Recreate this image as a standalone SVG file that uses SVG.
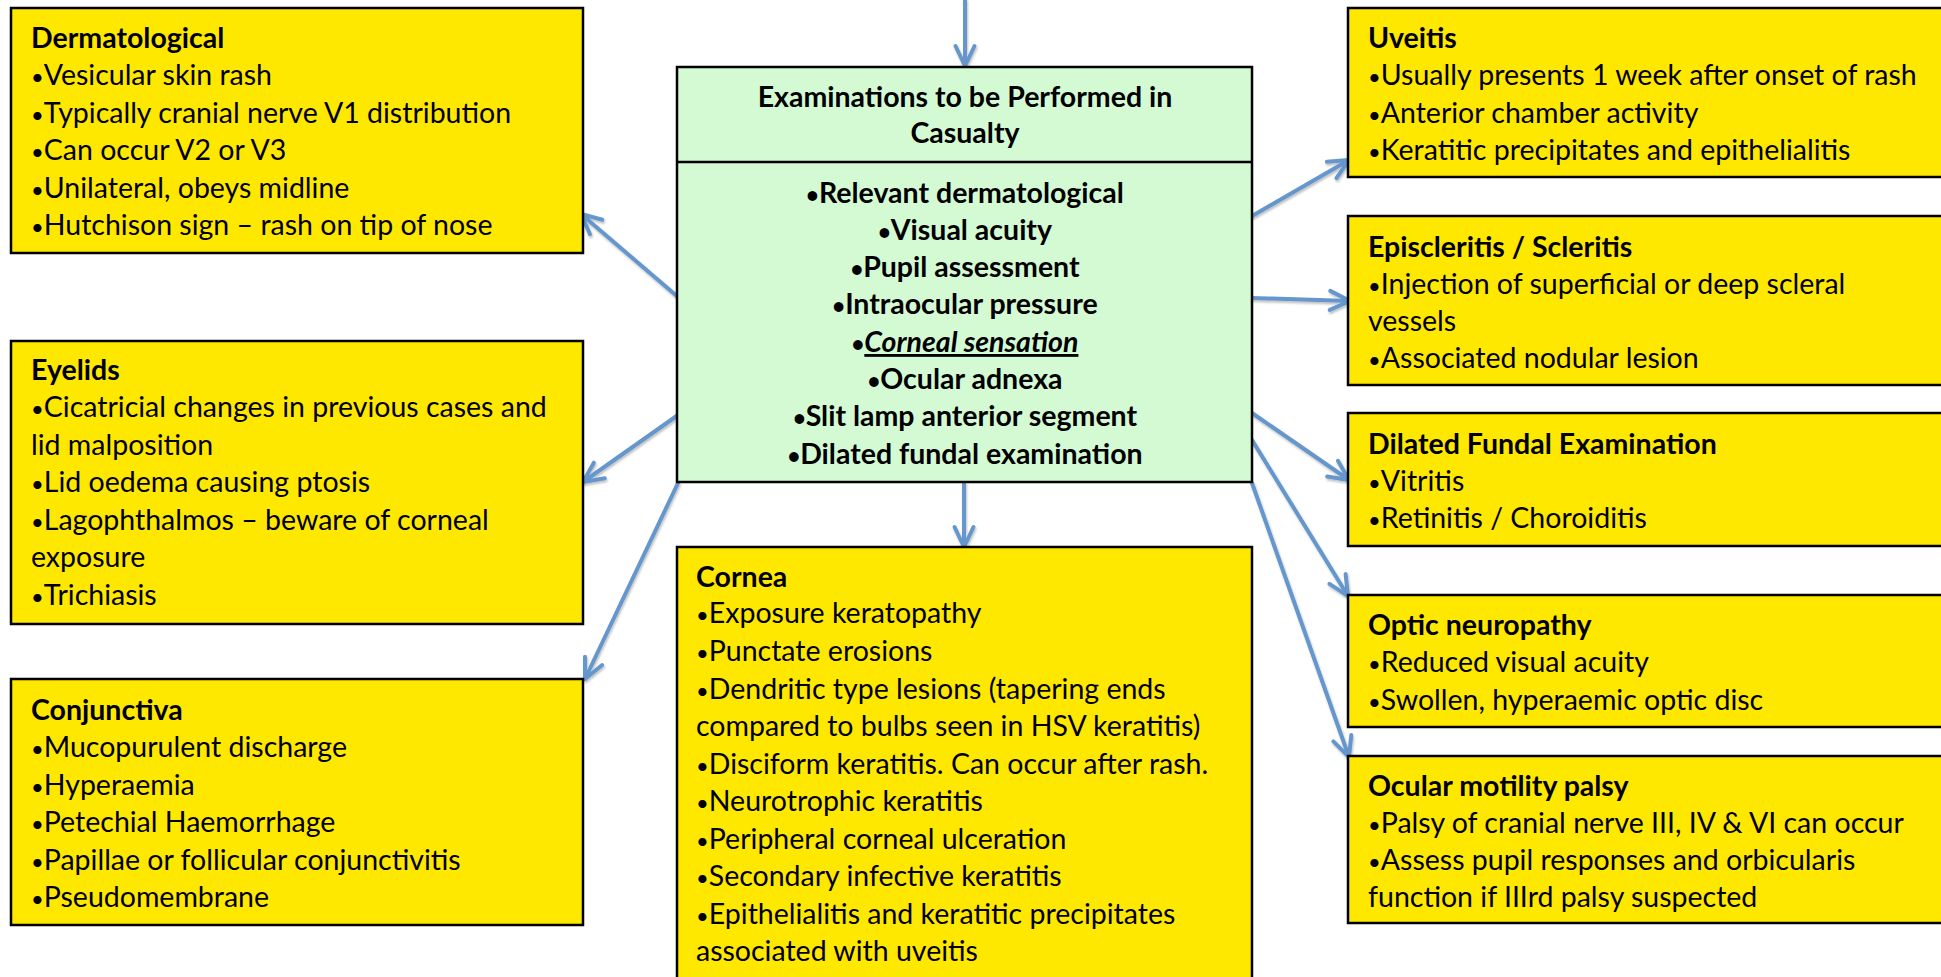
<svg xmlns="http://www.w3.org/2000/svg" width="1941" height="977" viewBox="0 0 1941 977">
<style>
.box{fill:#FFE800;stroke:#000;stroke-width:2.5}
.cbox{fill:#D4FAD4;stroke:#000;stroke-width:2.5}
.t{font-family:Lato,"Open Sans",sans-serif;font-size:28.5px;fill:#000}
.b{font-weight:bold}
.c{text-anchor:middle}
.bu{font-size:22px}
.conn{stroke:#6597CC;stroke-width:4;fill:none;stroke-linecap:round;marker-end:url(#ah)}
</style>
<defs>
<marker id="ah" markerUnits="userSpaceOnUse" viewBox="-26 -14 32 28" markerWidth="32" markerHeight="28" refX="0" refY="0" orient="auto">
<path d="M-20,-9.5 L0,0 L-20,9.5" fill="none" stroke="#6597CC" stroke-width="4" stroke-linecap="round" stroke-linejoin="round"/>
</marker>
<filter id="sh" x="-10%" y="-10%" width="120%" height="120%">
<feDropShadow dx="1" dy="2" stdDeviation="1.2" flood-color="#000" flood-opacity="0.25"/>
</filter>
</defs>
<rect width="1941" height="977" fill="#fff"/>

<g id="connectors" filter="url(#sh)">
<line class="conn" x1="965" y1="0" x2="965" y2="66"/>
<line class="conn" x1="678" y1="297" x2="581" y2="214"/>
<line class="conn" x1="678" y1="415" x2="583" y2="482"/>
<line class="conn" x1="678" y1="483" x2="585" y2="679"/>
<line class="conn" x1="964" y1="483" x2="964" y2="547"/>
<line class="conn" x1="1252" y1="216" x2="1349" y2="160"/>
<line class="conn" x1="1252" y1="298" x2="1350" y2="301"/>
<line class="conn" x1="1252" y1="413" x2="1349" y2="480"/>
<line class="conn" x1="1252" y1="440" x2="1348" y2="596"/>
<line class="conn" x1="1252" y1="483" x2="1349" y2="757"/>
</g>

<g id="dermatological">
<rect class="box" x="11" y="8" width="572" height="245"/>
<text class="t b" x="31" y="48">Dermatological</text>
<text class="t" x="31" y="85"><tspan class="bu">•</tspan>Vesicular skin rash</text>
<text class="t" x="31" y="123"><tspan class="bu">•</tspan>Typically cranial nerve V1 distribution</text>
<text class="t" x="31" y="160"><tspan class="bu">•</tspan>Can occur V2 or V3</text>
<text class="t" x="31" y="198"><tspan class="bu">•</tspan>Unilateral, obeys midline</text>
<text class="t" x="31" y="235"><tspan class="bu">•</tspan>Hutchison sign – rash on tip of nose</text>
</g>

<g id="eyelids">
<rect class="box" x="11" y="341" width="572" height="283"/>
<text class="t b" x="31" y="380">Eyelids</text>
<text class="t" x="31" y="417"><tspan class="bu">•</tspan>Cicatricial changes in previous cases and</text>
<text class="t" x="31" y="455">lid malposition</text>
<text class="t" x="31" y="492"><tspan class="bu">•</tspan>Lid oedema causing ptosis</text>
<text class="t" x="31" y="530"><tspan class="bu">•</tspan>Lagophthalmos – beware of corneal</text>
<text class="t" x="31" y="567">exposure</text>
<text class="t" x="31" y="605"><tspan class="bu">•</tspan>Trichiasis</text>
</g>

<g id="conjunctiva">
<rect class="box" x="11" y="679" width="572" height="246"/>
<text class="t b" x="31" y="720">Conjunctiva</text>
<text class="t" x="31" y="757"><tspan class="bu">•</tspan>Mucopurulent discharge</text>
<text class="t" x="31" y="795"><tspan class="bu">•</tspan>Hyperaemia</text>
<text class="t" x="31" y="832"><tspan class="bu">•</tspan>Petechial Haemorrhage</text>
<text class="t" x="31" y="870"><tspan class="bu">•</tspan>Papillae or follicular conjunctivitis</text>
<text class="t" x="31" y="907"><tspan class="bu">•</tspan>Pseudomembrane</text>
</g>

<g id="examinations">
<rect class="cbox" x="677" y="67" width="575" height="415"/>
<line x1="677" y1="162" x2="1252" y2="162" stroke="#000" stroke-width="2.5"/>
<text class="t b c" x="965" y="107">Examinations to be Performed in</text>
<text class="t b c" x="965" y="143">Casualty</text>
<text class="t b c" x="965" y="203"><tspan class="bu">•</tspan>Relevant dermatological</text>
<text class="t b c" x="965" y="240"><tspan class="bu">•</tspan>Visual acuity</text>
<text class="t b c" x="965" y="277"><tspan class="bu">•</tspan>Pupil assessment</text>
<text class="t b c" x="965" y="314"><tspan class="bu">•</tspan>Intraocular pressure</text>
<text class="t b c" x="965" y="352"><tspan class="bu">•</tspan><tspan font-style="italic" text-decoration="underline">Corneal sensation</tspan></text>
<text class="t b c" x="965" y="389"><tspan class="bu">•</tspan>Ocular adnexa</text>
<text class="t b c" x="965" y="426"><tspan class="bu">•</tspan>Slit lamp anterior segment</text>
<text class="t b c" x="965" y="464"><tspan class="bu">•</tspan>Dilated fundal examination</text>
</g>

<g id="cornea">
<rect class="box" x="677" y="547" width="575" height="440"/>
<text class="t b" x="696" y="587">Cornea</text>
<text class="t" x="696" y="623"><tspan class="bu">•</tspan>Exposure keratopathy</text>
<text class="t" x="696" y="661"><tspan class="bu">•</tspan>Punctate erosions</text>
<text class="t" x="696" y="699"><tspan class="bu">•</tspan>Dendritic type lesions (tapering ends</text>
<text class="t" x="696" y="736">compared to bulbs seen in HSV keratitis)</text>
<text class="t" x="696" y="774"><tspan class="bu">•</tspan>Disciform keratitis. Can occur after rash.</text>
<text class="t" x="696" y="811"><tspan class="bu">•</tspan>Neurotrophic keratitis</text>
<text class="t" x="696" y="849"><tspan class="bu">•</tspan>Peripheral corneal ulceration</text>
<text class="t" x="696" y="886"><tspan class="bu">•</tspan>Secondary infective keratitis</text>
<text class="t" x="696" y="924"><tspan class="bu">•</tspan>Epithelialitis and keratitic precipitates</text>
<text class="t" x="696" y="961">associated with uveitis</text>
</g>

<g id="uveitis">
<rect class="box" x="1348" y="8" width="610" height="169"/>
<text class="t b" x="1368" y="48">Uveitis</text>
<text class="t" x="1368" y="85"><tspan class="bu">•</tspan>Usually presents 1 week after onset of rash</text>
<text class="t" x="1368" y="123"><tspan class="bu">•</tspan>Anterior chamber activity</text>
<text class="t" x="1368" y="160"><tspan class="bu">•</tspan>Keratitic precipitates and epithelialitis</text>
</g>

<g id="episcleritis">
<rect class="box" x="1348" y="216" width="610" height="169"/>
<text class="t b" x="1368" y="257">Episcleritis / Scleritis</text>
<text class="t" x="1368" y="294"><tspan class="bu">•</tspan>Injection of superficial or deep scleral</text>
<text class="t" x="1368" y="331">vessels</text>
<text class="t" x="1368" y="368"><tspan class="bu">•</tspan>Associated nodular lesion</text>
</g>

<g id="dilated-fundal">
<rect class="box" x="1348" y="413" width="610" height="133"/>
<text class="t b" x="1368" y="454">Dilated Fundal Examination</text>
<text class="t" x="1368" y="491"><tspan class="bu">•</tspan>Vitritis</text>
<text class="t" x="1368" y="528"><tspan class="bu">•</tspan>Retinitis / Choroiditis</text>
</g>

<g id="optic-neuropathy">
<rect class="box" x="1348" y="595" width="610" height="132"/>
<text class="t b" x="1368" y="635">Optic neuropathy</text>
<text class="t" x="1368" y="672"><tspan class="bu">•</tspan>Reduced visual acuity</text>
<text class="t" x="1368" y="710"><tspan class="bu">•</tspan>Swollen, hyperaemic optic disc</text>
</g>

<g id="ocular-motility">
<rect class="box" x="1348" y="756" width="610" height="167"/>
<text class="t b" x="1368" y="796">Ocular motility palsy</text>
<text class="t" x="1368" y="833"><tspan class="bu">•</tspan>Palsy of cranial nerve III, IV &amp; VI can occur</text>
<text class="t" x="1368" y="870"><tspan class="bu">•</tspan>Assess pupil responses and orbicularis</text>
<text class="t" x="1368" y="907">function if IIIrd palsy suspected</text>
</g>
</svg>
